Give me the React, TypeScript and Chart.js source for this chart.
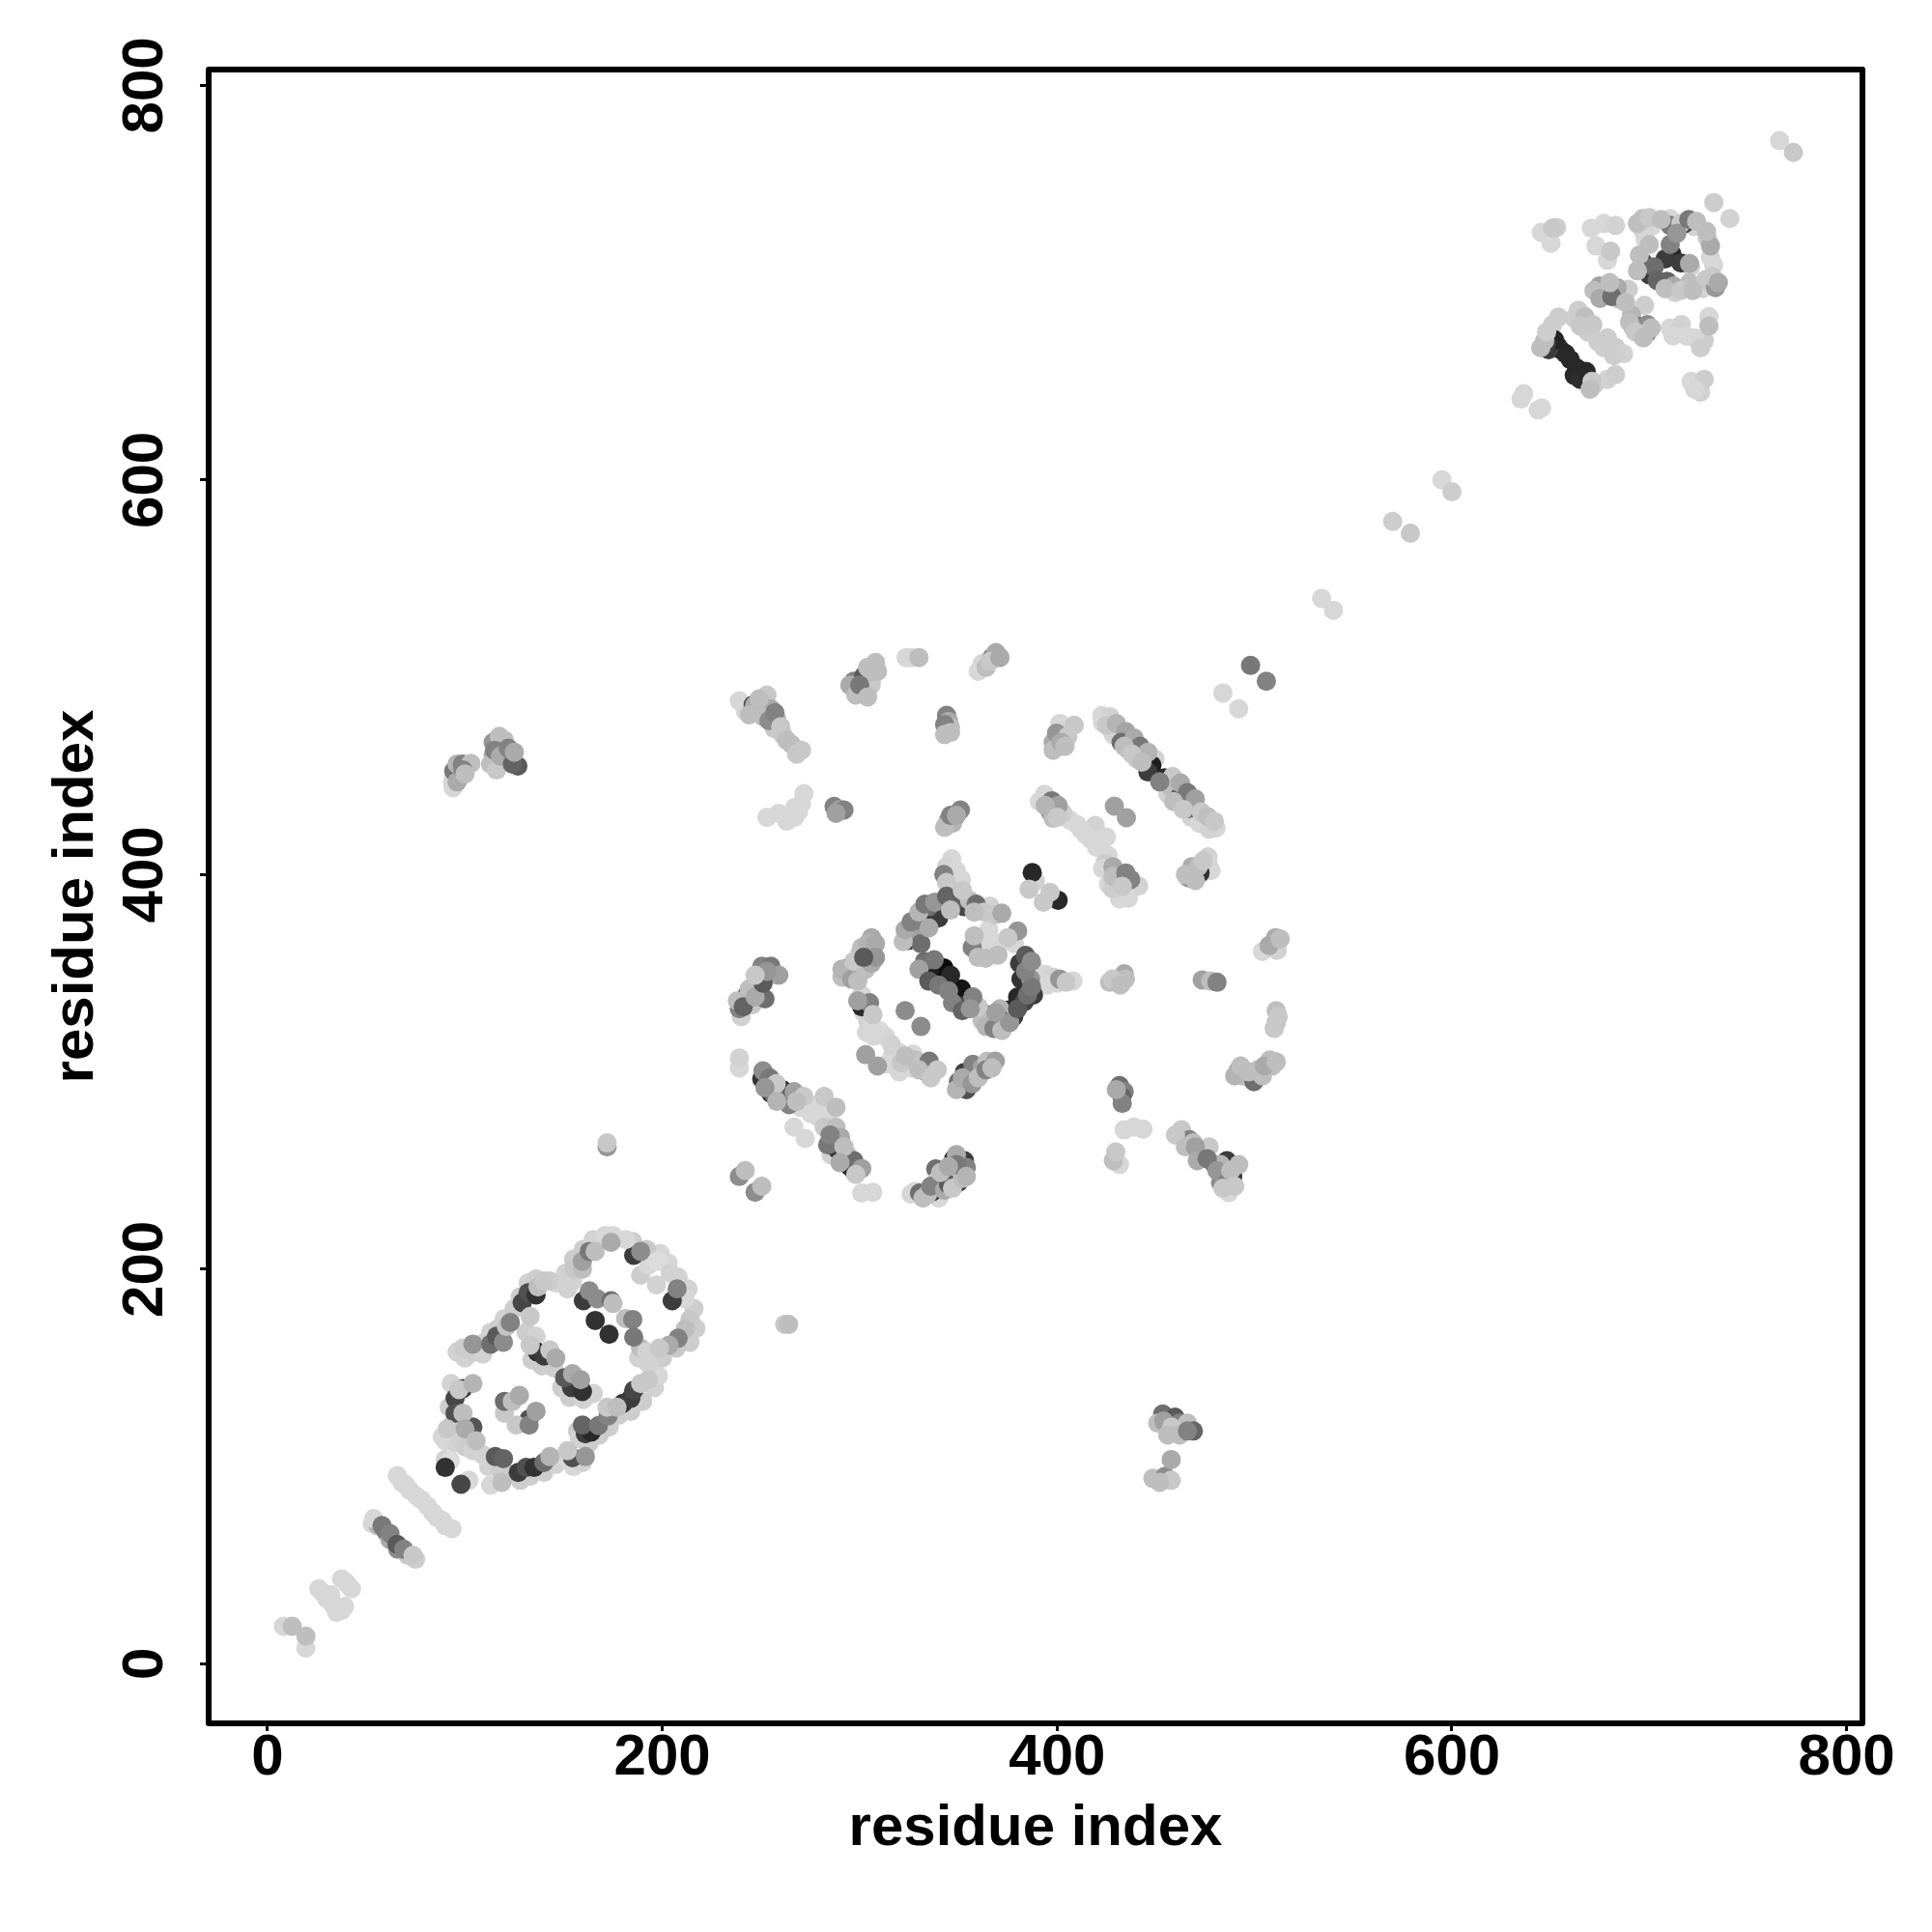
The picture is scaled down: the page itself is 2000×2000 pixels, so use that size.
import React, { useEffect, useRef } from "react";
import { Chart, registerables } from "chart.js";

Chart.register(...registerables);

type P = [number, number, number];

const xTickValues = [0, 200, 400, 600, 800];
const yTickValues = [0, 200, 400, 600, 800];
const axisTitle = "residue index";

const ringTopLeft: P[] = [[99,160,205],[104,162,150],[109,157,210],[113,162,110],[116,166,90],[119.5,163,140],[121,171,195],[123,173,130],[129,183,70],[132,188,80],[133,176,200],[136,187,50],[137,191,190],[140,194,200],[143,194,205]];
const ringLeft: P[] = [[97,139,200],[95,134.5,70],[99,139.5,60],[104,142,180],[95,127,80],[99,127,190],[88.5,115,215],[91,119,200],[100,119,170],[104,120,85],[105.6,113,190]];
const ringBottom: P[] = [[109,106,210],[115.4,105,90],[119.5,104,100],[127,97,60],[131,99.5,80],[135,99.5,50],[140,102,110],[143,105,180],[113,90.5,215],[118.7,92,190],[90,103.5,210],[90,99.5,50],[92.6,103,220],[98,91,70],[102,93,215],[152,108,200],[154.5,104.5,80],[159.5,102,210],[161,105,150]];
const ringBottomRight: P[] = [[158,114,210],[159.5,121,100],[161,116.6,60],[164,117.5,40],[167.6,120.7,120],[172.5,125.6,130],[172,130,200],[177,130,190],[180,132,50],[184,134.5,60],[185.5,138.6,70],[189,142,200],[193,144,200]];
const ringMiddle: P[] = [[133,161.5,200],[136.6,158,50],[136,166,210],[140,156,60],[143,159,200],[146,155,170],[154,140,60],[150.5,145,90],[154.5,147,170],[158.6,144,160],[159.5,138,50],[165,137,210]];
const ringInnerLow: P[] = [[120,127,200],[120,133,110],[124,133,190],[127.6,136,170],[126,121,200],[132.5,121,130],[132.5,124,80],[136,128,160]];
const ringUpperLeft: P[] = [[154.5,194,210],[155,200,200],[159.5,200,190],[159.5,204,160],[163,209,120],[166,209,190],[171,217,215],[174,213.6,170],[181.5,215,215]];
const ringUpperRight: P[] = [[185.5,207,60],[189,209,140],[189,197,205],[193,202,215],[197,192,210],[197.7,204,220],[204,198,210],[205,184,60],[207.5,190,130],[211.6,185,215],[214,174.5,200],[211.6,169.6,190],[208,165,130],[203.4,161.5,170],[198.5,160,200],[192,158,210]];
const ringInnerHigh: P[] = [[160,184,60],[163,189,140],[167,185,140],[174,184,110],[175,182.6,190],[166,174,50],[173,167,50],[181.4,175,190],[185,174.5,130],[189,160,190],[185.5,165.5,120]];
const tailLight: P[] = [[65.7,95.4,215],[70,90.6,215],[75.5,85,215],[83.6,76.7,215],[88.5,72.6,215],[93.4,68.5,215]];
const tailMid: P[] = [[53.7,73.6,215],[58,70,120],[62,66,130],[65.6,60.5,90],[69,58,130],[73.7,55,200]];
const tailSpots: P[] = [[28,36,215],[37.5,43,215],[42.5,38,215],[33,30,215],[37.5,27,215],[32,35,215],[8,19,215],[12.5,19,190],[19.4,8,215],[19.4,14,190]];
const pairs: P[] = [[262,172,200],[264,172,190],[172,262,150],[172,264,200],[766,772,215],[773,766,200],[534,540,215],[540,534,215],[570,579,205],[579,573,200],[595,600,215],[600,594,205],[484,492,215],[492,484,215],[498,506,120],[506,498,130]];

const stackA: P[] = [[240,328,210],[239,332,130],[238,336,190],[242,337,60],[245.5,334,200],[244,342,190],[248,340.5,50],[249.5,343.7,60],[252,337,110],[250.4,353.5,130],[251,349.5,60],[255,353.5,120],[254,348.6,190],[259,349,160],[241,333,100],[243,339,70],[246,343,50],[247,338,170],[251,345,90],[253,351,150],[247,349,200]];
const stackB: P[] = [[293.6,349.4,130],[294.4,352.7,30],[297.7,352,50],[300,350,130],[302,355,80],[300,360,200],[304,358.4,120],[306,361.7,150],[306,368,170],[291,348,190],[291,352,180],[296,347,160],[299,346,190],[303,352,190],[306,355,170],[297,356,200],[301,363,190],[304,365,180],[308,365,170],[308,358,150],[299,353,40],[302,358,90]];
const coreUpper: P[] = [[325.4,370.6,80],[324.6,366.6,60],[328.7,371.4,160],[331,365,110],[329.5,377,120],[332.8,378,30],[335,373,170],[335,383.7,110],[339,381,30],[342.6,385,60],[342.6,400,130],[346.6,408,215],[345.8,402.4,215],[344,396,200],[351.5,397.5,215],[349,387.7,100],[353,383.7,70],[355.6,387,190],[359,385,110],[363,381,200],[368.7,379.6,200],[372,380.4,170],[322,366,190],[323,372,170],[326,376,130],[330,381,180],[333,385,120],[338,386,150],[344,389,100],[340,378,60],[346,382,190],[348,392,215],[344,404,210],[349,402,215],[352,392,200],[358,381,190],[366,384,210]];
const coreLower: P[] = [[332.8,356,110],[337.7,356.8,120],[334.4,351,60],[339.3,348,50],[342.6,352.7,10],[349,338,60],[351.5,342,20],[354,334,70],[357.3,338,130],[330,352,160],[335,346,90],[340,344,120],[345,341,130],[346,349,40],[336,353,30],[347,335,130],[352,331,100],[356,332,150]];
const coreRight: P[] = [[364.6,329,130],[366,325,60],[371,332,180],[372,326,90],[376,331.5,40],[380,338,40],[383.4,335.6,70],[384.2,342,40],[381.7,347,50],[386.6,347,150],[381,355,60],[384,359,90],[388.2,352,210],[394,349.4,215],[398,348,210],[401.3,347,150],[404.6,345.4,200],[408,346,215],[362,326,190],[364,323,180],[368,322,130],[372,321,190],[376,325,150],[378,328,60],[380,332,90],[385,339,110],[387,343,120],[388,339,60],[384,351,130],[387,356,140],[390,348,215],[395,344,215],[400,345,215],[360,333,200],[369,330,160]];
const coreInner: P[] = [[357,363,130],[358,369,190],[358,364,205],[365.4,372,215],[363.8,357.6,190],[370,359.2,190],[371,365,215],[380,371.4,150],[378.4,365,215],[360,358,190],[366,362,215],[375,368,200],[362,366,215]];
const coreTop: P[] = [[387.4,401,40],[385.8,392.6,200],[389,396.7,210],[393,386,200],[400.5,387,40],[396.4,391,200]];
const arcMiddle: P[] = [[301,339,215],[301,333,40],[305,335,130],[306.7,329,200],[303.4,320,215],[310,321,220],[323,331,140],[331,323,140],[303,308.7,160],[309,303,160],[316.5,308,210],[319.7,310,215],[321,304.6,200],[328,306,190],[331,304.6,195],[334.4,299.7,40],[335.2,305.4,120],[339.3,301,200],[299,336,160],[302,330,215],[304,326,210],[306,323,215],[307,318,215],[313,318,215],[316,314,210],[314,304,215],[320,300,215],[326,302,215],[330,301,190],[332,303,60],[336,297,200],[323,308,190],[327,309,215]];
const stackC: P[] = [[350,295,110],[352.4,294,30],[353,299.7,60],[355.6,298,190],[357.3,303.8,130],[362,302.2,160],[364.6,305.4,190],[368.7,305.4,160],[349,291,180],[352,297,170],[354,291,80],[357,294,150],[359,300,60],[360,297,190],[364,301,130],[367,302,190]];
const crossLeft: P[] = [[239,302,215],[239,307,210],[250.4,296.5,50],[251,300.5,140],[254.4,297,120],[257,288,120],[257.7,294,200],[261,290.8,40],[264.2,283.4,130],[266.7,290,160],[271.6,287.5,200],[274.8,282.6,215],[282,287.5,200],[288,282,190],[266.7,272,215],[272.4,266.3,215],[279,277,215],[282,272,200],[288,272,190],[283.8,263,120],[285.4,258,210],[290.3,266.8,170],[288.7,260.6,50],[293.6,258,190],[297,250,60],[297,255,110],[301,251,160],[301,238.6,215],[306.6,239,215],[239,247,140],[242,250,190],[247,239,140],[250.4,242,190],[252,292,150],[255,289,60],[258,285,180],[262,286,70],[268,285,190],[270,282,215],[275,279,215],[278,283,215],[284,278,215],[285,268,130],[287,263,60],[292,262,190],[295,252,40],[290,254,170],[292,256,60],[298,248,200],[264,288,215],[281,280,215]];
const stackD: P[] = [[328,239.4,215],[330.3,238.6,110],[334.4,238,190],[337,239.4,60],[338.5,250.8,110],[338.5,244.3,200],[341,242.7,100],[343.4,247.6,50],[345.8,246,190],[347.5,255.7,50],[349,258,170],[350,249,200],[353,255,60],[354,251.6,130],[326,238,215],[332,236,190],[336,242,130],[340,236,215],[343,240,170],[345,243,90],[341,249,190],[347,241,200],[350,244,60],[352,246,190],[349,253,120],[345,252,170],[354,247,180]];

const longDiagonal: P[] = [[422.6,480.6,215],[426.7,480,210],[425,475.7,200],[430,476.6,180],[428.3,471,215],[434.8,472.5,165],[432.4,467,110],[439,469.2,170],[436.4,463.5,50],[442,465,120],[440.5,458.6,200],[446,462,180],[448,455.4,30],[449.5,458.6,210],[454.4,449,40],[458.5,449.7,200],[457.7,444,190],[461.7,439,90],[462.5,446.4,170],[466,441.5,120],[466.6,433.4,110],[470,438.3,160],[470.7,428.5,210],[473,431.7,200],[476.4,429.3,190],[479.7,426.9,200],[480.5,423.6,215],[423,477,215],[427,474,210],[431,470,210],[434,465,190],[438,461,200],[443,457,190],[446,452,60],[452,447,130],[456,441,210],[459,437,190],[464,433,200],[468,429,210],[472,426,215],[477,423,210]];
const capUpper: P[] = [[398,467,170],[399.7,471.7,150],[401.4,476.6,215],[403,473.3,215],[405.4,470,200],[408.7,475.7,200],[398,463,190],[402,467,170],[404,465,190]];
const shortDiagonal: P[] = [[393.7,440.7,215],[396.5,431.7,150],[397.3,437.4,120],[398,428.5,190],[400.5,435,160],[406.3,427.7,215],[410.3,425.2,215],[414.4,420.3,215],[419.3,424.9,210],[425,419,215],[420,413.8,215],[425.8,409.7,215],[424.2,405.7,205],[428.3,404,170],[431.6,387.7,215],[435.6,391,210],[428.3,399,190],[434.8,400.8,130],[437.3,397.5,130],[441.3,394.2,210],[429,434.7,160],[435.1,428.8,160],[391,437,215],[394,435,180],[400,429,200],[403,431,205],[412,423,215],[417,418,215],[423,403,215],[426,395,215],[430,393,210],[433,394,200],[436,388,215],[428,393,205]];
const capLower: P[] = [[466.6,398.3,150],[468.3,404,170],[472.4,400.8,50],[471.5,404,190],[476.4,409,210],[476.4,405.7,215],[465,400,190],[470,397,190],[474,401,215],[478,402,215],[474,407,200]];
const capRight: P[] = [[504,361,215],[507.4,364,170],[511.5,361.6,210],[510.7,368,170],[513,367.4,190]];

const upperLeftArc: P[] = [[239,488,215],[246.7,485.7,170],[246,486,80],[250,484,70],[253,491,200],[255,484,170],[258,479,190],[256.7,474,200],[261,471,200],[265.5,466,190],[270.5,463,200],[253,429,215],[259,431,215],[267,434,215],[271.7,441,215],[270.5,436,215],[287,434.5,130],[290,433,160],[292,432.7,130],[242,483,215],[244,481,190],[249,489,190],[251,480,190],[254,478,140],[257,482,130],[260,475,200],[263,468,190],[268,461,200],[263,427,215],[267,429,215],[269,432,215],[288,431,160]];
const upperStacks: P[] = [[297,498,130],[302,500.6,90],[302,493,110],[305.7,496,200],[306,502.5,190],[308,507.5,190],[323.5,510,215],[330,510,190],[344,480.7,130],[345,477.7,170],[346,474.5,190],[345,427.7,150],[347,426,180],[351,432.7,130],[362,507,215],[367,510,130],[369,512.5,170],[295,496,170],[298,491,190],[300,496,120],[304,490,190],[306,498,215],[304,505,190],[309,503,190],[326,510,215],[343,476,130],[343,471,190],[346,472,190],[343,424,190],[346,430,130],[349,430,170],[360,503,215],[364,505,190],[366,508,200],[371,510,170]];
const farLeft: P[] = [[93.7,447,215],[94.3,452.5,120],[97.4,449.5,100],[96,456,180],[98.7,456,130],[103,456.4,190],[114.3,460.7,170],[114.3,467,150],[117.4,470,190],[117.4,456.4,200],[119.3,465,130],[120,468,190],[121.8,462,110],[123.7,459.5,170],[126.8,455,90],[94,444,215],[96,447,170],[99,453,130],[100,451,190],[113,456,190],[115,463,130],[116,453,200],[118,460,170],[122,464,130],[124,456,100],[125,462,170]];
const lowerRightArc: P[] = [[428.5,255,190],[429.7,259.4,200],[431.6,253,215],[434,270.6,215],[439,272,215],[443.5,271,215],[463,270.6,200],[467,265.6,130],[469,264,190],[473.5,259.4,170],[477,262,200],[479.7,253,110],[482.8,253,180],[482.8,243.8,140],[487,238.8,215],[489,247,60],[492,253,190],[460,268,200],[465,262,190],[470,262,160],[471,255,170],[476,256,120],[481,250,150],[486,244,130],[484,241,200],[488,250,190],[490,242,200],[486,255,60]];
const lowerSmall: P[] = [[431.6,293,110],[434,290,130],[432.8,287.4,100],[426.6,345.4,190],[429.7,346.6,130],[434,349.7,170],[434.6,347,190],[473.5,346.6,160],[477.8,346,190],[481,345.4,130],[492,301,150],[494,298,190],[498.4,296.8,190],[499.7,295,110],[501.6,301,190],[507.8,306,190],[509,303,190],[511,331,190],[511,325,190],[490,298,180],[493,303,190],[497,300,190],[504,298,190],[505,303,170],[511,305,190],[510,322,200],[512,328,200],[433,284,130],[430,291,170],[428,347,200],[432,344,190]];
const lowerIsland: P[] = [[453.5,126.6,110],[456,119,200],[459.7,125,90],[462,122,130],[464,119,160],[466,122,190],[469,118,100],[448.5,94,190],[454.7,95,140],[457.8,103.5,170],[457.8,93,200],[451,122,190],[454,123,160],[458,120,200],[456,116,190],[462,116,190],[466,118,130],[452,92,190]];

const topGroupA: P[] = [[645.3,725.5,215],[650.2,720,215],[651,727.6,200],[653,728,205],[670.6,727.6,215],[677,730,215],[682.9,729,210],[673,718.6,215],[680.4,716,200],[678.8,711.3,215]];
const topRing: P[] = [[696.7,732.5,190],[701.6,729,215],[710.6,732.5,215],[710.6,729,120],[716,730,200],[717.9,730,70],[722.9,728.4,210],[729.4,722.7,200],[731,718.6,170],[700,719.4,190],[710.6,719.4,130],[711.4,714.6,40],[696.7,710.5,70],[702.5,708,110],[720.4,709.7,170],[721,708,210],[732.6,708.9,215],[709,700.7,100],[712.3,698.3,170],[713,695,210],[720.4,699.9,190],[728.6,701.5,200],[733.5,697.5,150],[732.7,740.6,205],[740.8,732.5,210],[694,730,190],[697,726,210],[700,733,200],[706,732,190],[698,722,215],[695,714,190],[694,706,190],[700,704,60],[704,701,100],[708,697,190],[716,696,200],[722,696,190],[727,697,210],[732,703,200],[735,700,170],[731,713,215],[729,726,190],[714,725,150],[720,732,120],[724,731,190],[708,712,60],[716,710,60]];
const topStrand: P[] = [[674.7,698.3,160],[677,694.2,60],[678.8,698.3,150],[684.5,691.7,190],[683.7,697.5,170],[689.4,696.6,205],[691.8,677,200],[691,683.6,180],[697.6,688.5,205],[695,677.9,120],[699,674.6,140],[699,678.7,140],[672,696,190],[675,692,170],[681,693,110],[688,690,190],[690,680,190],[693,675,200],[697,672,190],[701,677,190],[680,700,190]];
const topLight: P[] = [[664,686,205],[667.4,682.8,190],[671.4,678.7,200],[678.8,672,205],[682.9,667.3,205],[687,664,210],[710.6,677,215],[716.3,678.7,210],[718.8,673,215],[727.8,670.6,205],[730.2,678,190],[730.2,682.8,215],[721.2,650,215],[726,644.5,210],[727.8,651,205],[636.4,643.7,215],[635,641,215],[643.7,635.5,215],[645.5,636.5,215],[662,682,205],[665,678,200],[669,675,205],[674,670,205],[677,667,205],[682,663,205],[712,673,215],[723,672,215],[726,667,205],[723,646,215],[648,675,205]];
const topDark: P[] = [[647,670.6,190],[651,669,35],[653.5,668,40],[655,666,45],[657.6,664,40],[663.3,656.7,40],[666.6,655,50],[669,651.8,40],[672.3,648.5,205],[678.8,651,210],[682.9,653.4,205],[651,678.7,205],[654,682.5,205],[645,667,190],[649,666,60],[652,671,35],[660,661,40],[662,653,40],[665,651,45],[668,655,40],[671,650,200],[670,646,190],[648,669,60]];

const ringUnderlay: P[] = [[96,158,210],[100,155,210],[105,158,205],[110,163,210],[113,168,210],[117,170,205],[120,175,210],[125,180,205],[128,186,205],[132,193,210],[136,195,205],[146,193,215],[93,142,210],[92,130,205],[94,122,210],[90,113,215],[95,112,210],[100,110,205],[104,108,210],[112,100,210],[118,98,205],[123,96,205],[128,93,205],[133,95,205],[140,97,205],[146,101,210],[150,105,215],[155,100,215],[157,118,205],[163,112,205],[168,116,205],[173,120,205],[178,126,205],[184,128,205],[190,133,205],[196,140,210],[198,146,215],[131,168,205],[134,154,205],[139,151,205],[145,150,205],[149,140,205],[153,135,205],[160,134,210],[152,190,210],[151,198,210],[155,205,205],[160,210,205],[165,215,210],[175,217,215],[185,214,205],[192,210,200],[199,208,215],[203,203,215],[208,196,210],[213,190,210],[216,180,205],[217,170,205],[214,163,205],[207,160,200],[200,155,205],[193,152,210],[188,155,210]];
const tailUnderlay: P[] = [[68,92,215],[72,88,215],[78,83,215],[81,80,215],[86,74,215],[90,70,215],[53,71,215],[56,70,180],[60,67,120],[62,63,170],[66,58,140],[71,55,200],[75,53,205],[30,33,215],[40,41,215],[35,26,215],[39,29,215],[26,38,215]];

const clusters: P[][] = [
  ringTopLeft, ringLeft, ringBottom, ringBottomRight, ringMiddle, ringInnerLow, ringUpperLeft, ringUpperRight, ringInnerHigh,
  tailLight, tailMid, tailSpots, pairs, stackA, stackB, coreUpper, coreLower, coreRight, coreInner, coreTop, arcMiddle, stackC,
  crossLeft, stackD, longDiagonal, capUpper, shortDiagonal, capLower, capRight, upperLeftArc, upperStacks, farLeft,
  lowerRightArc, lowerSmall, lowerIsland, topGroupA, topRing, topStrand, topLight, topDark, ringUnderlay, tailUnderlay,
];

// Painting layer of a point: pale halos first, dark crescents next, mid greys on top.
const layer = (g: number) => (g >= 205 ? 0 : g < 90 ? 1 : 2);

const frame = {
  id: "frame",
  afterDatasetsDraw(chart: any) {
    const { ctx, chartArea: a } = chart;
    ctx.save();
    ctx.strokeStyle = "#000";
    ctx.lineWidth = 6;
    ctx.lineJoin = "round";
    ctx.strokeRect(a.left, a.top, a.right - a.left, a.bottom - a.top);
    ctx.restore();
  },
};

export default function App() {
  const ref = useRef<HTMLCanvasElement>(null);
  useEffect(() => {
    const font = { family: "'Liberation Sans', Arial, sans-serif", size: 60, weight: "bold" as const, lineHeight: 1.2 };
    const chart = new Chart(ref.current!, {
      type: "scatter",
      data: {
        datasets: clusters.map((c) => {
          const ordered = [...c].sort((a, b) => layer(a[2]) - layer(b[2]));
          return {
            data: ordered.map(([x, y]) => ({ x, y })),
            pointRadius: 10,
            pointBorderWidth: 0,
            pointBackgroundColor: ordered.map(([, , g]) => `rgb(${g},${g},${g})`),
          };
        }),
      },
      options: {
        responsive: false,
        animation: false,
        layout: { padding: { left: 0, top: 72, right: 72, bottom: 0 } },
        plugins: { legend: { display: false }, tooltip: { enabled: false } },
        scales: {
          x: {
            type: "linear",
            min: -29.85,
            max: 808,
            afterBuildTicks: (s: any) => { s.ticks = xTickValues.map((value) => ({ value })); },
            afterFit: (s: any) => { s.height = 216; },
            border: { display: false },
            grid: { drawOnChartArea: false, drawTicks: true, tickLength: 8, color: "#000", lineWidth: 3 },
            ticks: { color: "#000", font, padding: -8, maxRotation: 0, minRotation: 0, autoSkip: false },
            title: { display: true, text: axisTitle, color: "#000", font, padding: { top: 0, bottom: 71 } },
          },
          y: {
            type: "linear",
            min: -30.2,
            max: 808,
            afterBuildTicks: (s: any) => { s.ticks = yTickValues.map((value) => ({ value })); },
            afterFit: (s: any) => { s.width = 216; },
            border: { display: false },
            grid: { drawOnChartArea: false, drawTicks: true, tickLength: 9, color: "#000", lineWidth: 3 },
            ticks: { color: "#000", font, padding: 5, minRotation: 90, maxRotation: 90, crossAlign: "center", autoSkip: false },
            title: { display: true, text: axisTitle, color: "#000", font, padding: { top: 43, bottom: 0 } },
          },
        },
      } as any,
      plugins: [frame],
    });
    return () => chart.destroy();
  }, []);
  return (
    <div style={{ position: "absolute", left: 0, top: 0, width: 2000, height: 2000, background: "#fff" }}>
      <canvas ref={ref} width={2000} height={2000} style={{ display: "block" }} />
    </div>
  );
}
